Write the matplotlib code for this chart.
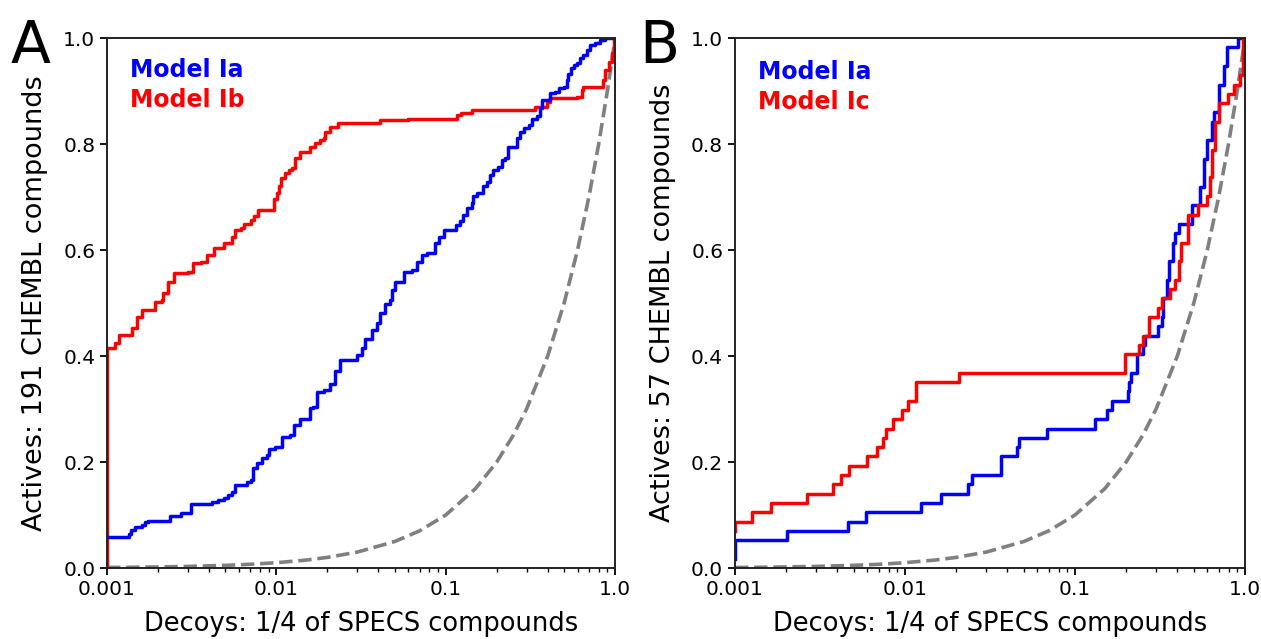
import numpy as np
import matplotlib.pyplot as plt
from matplotlib.ticker import FixedLocator, FixedFormatter, LogLocator, NullFormatter

# ---- Painel A: 191 ativos, Model Ia x Model Ib ----
a_ia_x = [0.001, 0.00134, 0.00139, 0.00146, 0.0016, 0.00168, 0.00175, 0.00236, 0.00273,
          0.00313, 0.00415, 0.0045, 0.0049, 0.0052, 0.0055, 0.0057, 0.0067, 0.0071,
          0.0073, 0.0077, 0.0082, 0.0088, 0.0090, 0.0098, 0.0108, 0.0121, 0.0127,
          0.0138, 0.0158, 0.0165, 0.0173, 0.0190, 0.0207, 0.0222, 0.0237, 0.0298,
          0.0320, 0.0335, 0.0366, 0.0392, 0.0410, 0.0439, 0.0470, 0.0481, 0.0503,
          0.0563, 0.063, 0.0675, 0.0723, 0.0774, 0.0865, 0.0906, 0.097, 0.115, 0.122,
          0.127, 0.133, 0.142, 0.145, 0.152, 0.166, 0.174, 0.183, 0.19, 0.204, 0.214,
          0.224, 0.234, 0.262, 0.275, 0.288, 0.308, 0.323, 0.345, 0.361, 0.370, 0.414,
          0.443, 0.464, 0.497, 0.52, 0.53, 0.546, 0.57, 0.595, 0.624, 0.65, 0.68, 0.71,
          0.76, 0.81, 0.87, 1.0]
a_ia_y = [0.059, 0.065, 0.072, 0.078, 0.081, 0.086, 0.089, 0.098, 0.103,
          0.121, 0.125, 0.128, 0.133, 0.138, 0.144, 0.157, 0.163, 0.166,
          0.188, 0.199, 0.207, 0.213, 0.224, 0.229, 0.248, 0.251, 0.270,
          0.281, 0.301, 0.304, 0.333, 0.336, 0.348, 0.371, 0.392, 0.402,
          0.415, 0.433, 0.449, 0.462, 0.481, 0.499, 0.506, 0.525, 0.540,
          0.559, 0.562, 0.578, 0.591, 0.594, 0.613, 0.625, 0.638, 0.648, 0.654,
          0.666, 0.679, 0.688, 0.701, 0.707, 0.720, 0.729, 0.742, 0.751, 0.757, 0.770,
          0.773, 0.795, 0.811, 0.823, 0.830, 0.836, 0.847, 0.852, 0.868, 0.883, 0.896,
          0.899, 0.905, 0.908, 0.921, 0.933, 0.943, 0.949, 0.952, 0.962, 0.968, 0.977, 0.987,
          0.990, 0.996, 1.0, 1.0]

a_ib_x = [0.001, 0.001, 0.00111, 0.00117, 0.0014, 0.0015, 0.0016, 0.00192, 0.0021, 0.00215,
          0.0023, 0.0025, 0.0030, 0.0032, 0.0036, 0.0039, 0.0043, 0.0049, 0.0055, 0.0057,
          0.0062, 0.0064, 0.0071, 0.0074, 0.0078, 0.0097, 0.0101, 0.0103, 0.0107, 0.0112,
          0.0118, 0.0123, 0.0129, 0.0138, 0.0158, 0.0169, 0.0181, 0.0190, 0.0194, 0.0207,
          0.0232, 0.041, 0.0602, 0.116, 0.1228, 0.1438, 0.337, 0.395, 0.414, 0.595, 0.637,
          0.650, 0.847, 0.874, 0.915, 0.958, 0.979, 1.0]
a_ib_y = [0.0, 0.415, 0.424, 0.44, 0.452, 0.474, 0.487, 0.502, 0.506, 0.518,
          0.540, 0.556, 0.559, 0.575, 0.578, 0.591, 0.603, 0.613, 0.625, 0.638,
          0.641, 0.650, 0.657, 0.665, 0.675, 0.697, 0.707, 0.720, 0.735, 0.745,
          0.751, 0.754, 0.773, 0.785, 0.795, 0.801, 0.807, 0.811, 0.823, 0.833,
          0.839, 0.845, 0.848, 0.855, 0.859, 0.865, 0.870, 0.880, 0.886, 0.889, 0.902,
          0.908, 0.921, 0.94, 0.955, 0.971, 0.996, 1.0]

# ---- Painel B: 57 ativos, Model Ia x Model Ic (contagem de ativos) ----
n_ativos_b = 57
b_ia_x = [0.001, 0.001, 0.00203, 0.00461, 0.0059, 0.0124, 0.01629, 0.0235, 0.0248, 0.0367,
          0.0453, 0.0468, 0.0682, 0.1312, 0.1545, 0.166, 0.2055, 0.2088, 0.2148, 0.2305,
          0.250, 0.259, 0.306, 0.3233, 0.33, 0.35, 0.357, 0.376, 0.387, 0.41, 0.487,
          0.543, 0.574, 0.60, 0.64, 0.66, 0.708, 0.749, 0.787, 0.912, 1.0]
b_ia_n = [1, 3, 4, 5, 6, 7, 8, 9, 10, 12,
          13, 14, 15, 16, 17, 18, 19, 20, 21, 23,
          24, 25, 26, 27, 29, 31, 33, 35, 36, 37, 39,
          41, 44, 46, 48, 49, 52, 54, 56, 57, 57]

b_ic_x = [0.001, 0.001, 0.001265, 0.001635, 0.00264, 0.00377, 0.00421, 0.00469, 0.006,
          0.0068, 0.00746, 0.0077, 0.00855, 0.00964, 0.01036, 0.01155, 0.02084, 0.1977,
          0.239, 0.25, 0.274, 0.306, 0.323, 0.36, 0.39, 0.41, 0.42, 0.46, 0.465, 0.526,
          0.60, 0.62, 0.64, 0.665, 0.708, 0.79, 0.86, 0.93, 0.97, 1.0]
b_ic_n = [4, 5, 6, 7, 8, 9, 10, 11, 12,
          13, 14, 15, 16, 17, 18, 20, 21, 23,
          24, 25, 27, 28, 29, 30, 31, 33, 35, 36, 38, 39,
          40, 42, 45, 48, 50, 51, 52, 53, 57, 57]

# linha aleatória (diagonal)
aleat_x = [0.001, 0.0015, 0.002, 0.003, 0.005, 0.007, 0.01, 0.015, 0.02, 0.03, 0.05, 0.07,
           0.1, 0.15, 0.2, 0.25, 0.3, 0.4, 0.5, 0.6, 0.7, 0.8, 0.9, 1.0]
aleat_y = [0.001, 0.0015, 0.002, 0.003, 0.005, 0.007, 0.01, 0.015, 0.02, 0.03, 0.05, 0.07,
           0.1, 0.15, 0.2, 0.25, 0.3, 0.4, 0.5, 0.6, 0.7, 0.8, 0.9, 1.0]

x_ticks = [0.001, 0.01, 0.1, 1.0]
x_ticklabels = ['0.001', '0.01', '0.1', '1.0']
y_ticks = [0.0, 0.2, 0.4, 0.6, 0.8, 1.0]

AZUL = '#0000ff'
VERMELHO = '#ff0000'


def configurar_eixo(ax, ylabel):
    ax.set_xscale('log')
    ax.set_xlim(0.001, 1.0)
    ax.set_ylim(0.0, 1.0)
    ax.xaxis.set_major_locator(FixedLocator(x_ticks))
    ax.xaxis.set_major_formatter(FixedFormatter(x_ticklabels))
    ax.xaxis.set_minor_locator(LogLocator(base=10, subs=np.arange(2, 10)))
    ax.xaxis.set_minor_formatter(NullFormatter())
    ax.set_yticks(y_ticks)
    ax.set_yticklabels([f'{v:.1f}' for v in y_ticks])
    ax.tick_params(labelsize=14.5, width=1.3, length=5)
    ax.tick_params(which='minor', width=1.0, length=3)
    for s in ax.spines.values():
        s.set_linewidth(1.4)
        s.set_color('#222222')
    ax.set_xlabel('Decoys: 1/4 of SPECS compounds', fontsize=18.5, labelpad=9)
    ax.set_ylabel(ylabel, fontsize=19.5, labelpad=11)


fig = plt.figure(figsize=(12.61, 6.39), dpi=100)

# Painel A
axA = fig.add_axes([0.0849, 0.1111, 0.4029, 0.8294])
axA.plot(aleat_x, aleat_y, color='gray', lw=2.6, ls='--')
axA.plot(a_ib_x, a_ib_y, color=VERMELHO, lw=2.5, drawstyle='steps-post')
axA.plot(a_ia_x, a_ia_y, color=AZUL, lw=2.5, drawstyle='steps-post')
configurar_eixo(axA, 'Actives: 191 CHEMBL compounds')
axA.text(0.045, 0.94, 'Model Ia', color=AZUL, fontsize=17, fontweight='bold',
         transform=axA.transAxes, va='center')
axA.text(0.045, 0.883, 'Model Ib', color=VERMELHO, fontsize=17, fontweight='bold',
         transform=axA.transAxes, va='center')

# Painel B
axB = fig.add_axes([0.5829, 0.1111, 0.4044, 0.8294])
axB.plot(aleat_x, aleat_y, color='gray', lw=2.6, ls='--')
axB.plot(b_ia_x, np.array(b_ia_n) / n_ativos_b, color=AZUL, lw=2.5, drawstyle='steps-post')
axB.plot(b_ic_x, np.array(b_ic_n) / n_ativos_b, color=VERMELHO, lw=2.5, drawstyle='steps-post')
configurar_eixo(axB, 'Actives: 57 CHEMBL compounds')
axB.text(0.045, 0.936, 'Model Ia', color=AZUL, fontsize=17, fontweight='bold',
         transform=axB.transAxes, va='center')
axB.text(0.045, 0.88, 'Model Ic', color=VERMELHO, fontsize=17, fontweight='bold',
         transform=axB.transAxes, va='center')

# letras dos painéis
fig.text(0.008, 0.901, 'A', fontsize=42, va='baseline', ha='left')
fig.text(0.507, 0.901, 'B', fontsize=42, va='baseline', ha='left')

fig.savefig('out.png', dpi=100)
